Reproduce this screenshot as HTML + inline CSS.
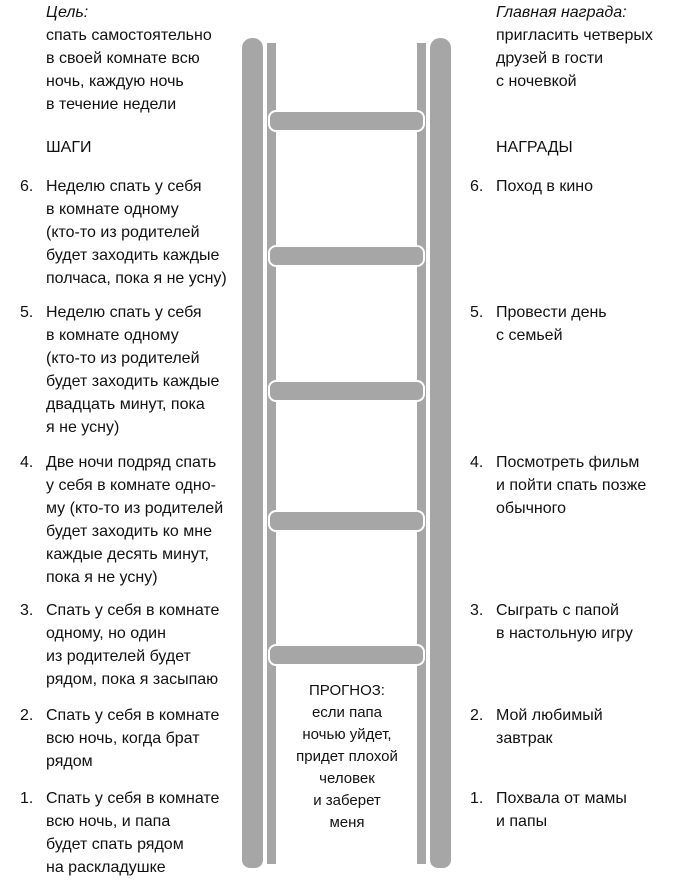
<!DOCTYPE html>
<html><head><meta charset="utf-8"><style>
body{margin:0;width:677px;height:880px;background:#fff;position:relative;overflow:hidden;font-family:"Liberation Sans","Noto Sans CJK SC",sans-serif;font-size:16px;color:#111}
.t{position:absolute;line-height:23px;white-space:nowrap}
.n{position:absolute;line-height:23px}
.r{position:absolute;background:#a6a6a6}
.rung{position:absolute;left:268px;width:153px;height:18px;background:#a6a6a6;border:2px solid #fff;border-radius:8px;box-sizing:content-box}
</style></head><body>
<div class="r" style="left:242px;top:38px;width:21px;height:830px;border-radius:10px 10px 8px 8px"></div>
<div class="r" style="left:267px;top:43px;width:9px;height:821px"></div>
<div class="r" style="left:417px;top:43px;width:9px;height:821px"></div>
<div class="r" style="left:430px;top:38px;width:21px;height:830px;border-radius:10px 10px 8px 8px"></div>
<div class="rung" style="top:110px"></div>
<div class="rung" style="top:245px"></div>
<div class="rung" style="top:380px"></div>
<div class="rung" style="top:510px"></div>
<div class="rung" style="top:644px"></div>

<div class="t" style="left:46px;top:1px"><i>Цель:</i><br>спать самостоятельно<br>в своей комнате всю<br>ночь, каждую ночь<br>в течение недели</div>
<div class="t" style="left:496px;top:1px"><i>Главная награда:</i><br>пригласить четверых<br>друзей в гости<br>с ночевкой</div>
<div class="t" style="left:46px;top:136px">ШАГИ</div>
<div class="t" style="left:496px;top:136px">НАГРАДЫ</div>

<div class="n" style="left:20px;top:175px">6.</div>
<div class="t" style="left:46px;top:175px">Неделю спать у себя<br>в комнате одному<br>(кто-то из родителей<br>будет заходить каждые<br>полчаса, пока я не усну)</div>
<div class="n" style="left:20px;top:301px">5.</div>
<div class="t" style="left:46px;top:301px">Неделю спать у себя<br>в комнате одному<br>(кто-то из родителей<br>будет заходить каждые<br>двадцать минут, пока<br>я не усну)</div>
<div class="n" style="left:20px;top:451px">4.</div>
<div class="t" style="left:46px;top:451px">Две ночи подряд спать<br>у себя в комнате одно-<br>му (кто-то из родителей<br>будет заходить ко мне<br>каждые десять минут,<br>пока я не усну)</div>
<div class="n" style="left:20px;top:599px">3.</div>
<div class="t" style="left:46px;top:599px">Спать у себя в комнате<br>одному, но один<br>из родителей будет<br>рядом, пока я засыпаю</div>
<div class="n" style="left:20px;top:704px">2.</div>
<div class="t" style="left:46px;top:704px">Спать у себя в комнате<br>всю ночь, когда брат<br>рядом</div>
<div class="n" style="left:20px;top:787px">1.</div>
<div class="t" style="left:46px;top:787px">Спать у себя в комнате<br>всю ночь, и папа<br>будет спать рядом<br>на раскладушке</div>

<div class="n" style="left:470px;top:175px">6.</div>
<div class="t" style="left:496px;top:175px">Поход в кино</div>
<div class="n" style="left:470px;top:301px">5.</div>
<div class="t" style="left:496px;top:301px">Провести день<br>с семьей</div>
<div class="n" style="left:470px;top:451px">4.</div>
<div class="t" style="left:496px;top:451px">Посмотреть фильм<br>и пойти спать позже<br>обычного</div>
<div class="n" style="left:470px;top:599px">3.</div>
<div class="t" style="left:496px;top:599px">Сыграть с папой<br>в настольную игру</div>
<div class="n" style="left:470px;top:704px">2.</div>
<div class="t" style="left:496px;top:704px">Мой любимый<br>завтрак</div>
<div class="n" style="left:470px;top:787px">1.</div>
<div class="t" style="left:496px;top:787px">Похвала от мамы<br>и папы</div>

<div class="t" style="left:272px;width:150px;top:680px;text-align:center;line-height:22px;white-space:normal;font-size:15px">ПРОГНОЗ:<br>если папа<br>ночью уйдет,<br>придет плохой<br>человек<br>и заберет<br>меня</div>
</body></html>
